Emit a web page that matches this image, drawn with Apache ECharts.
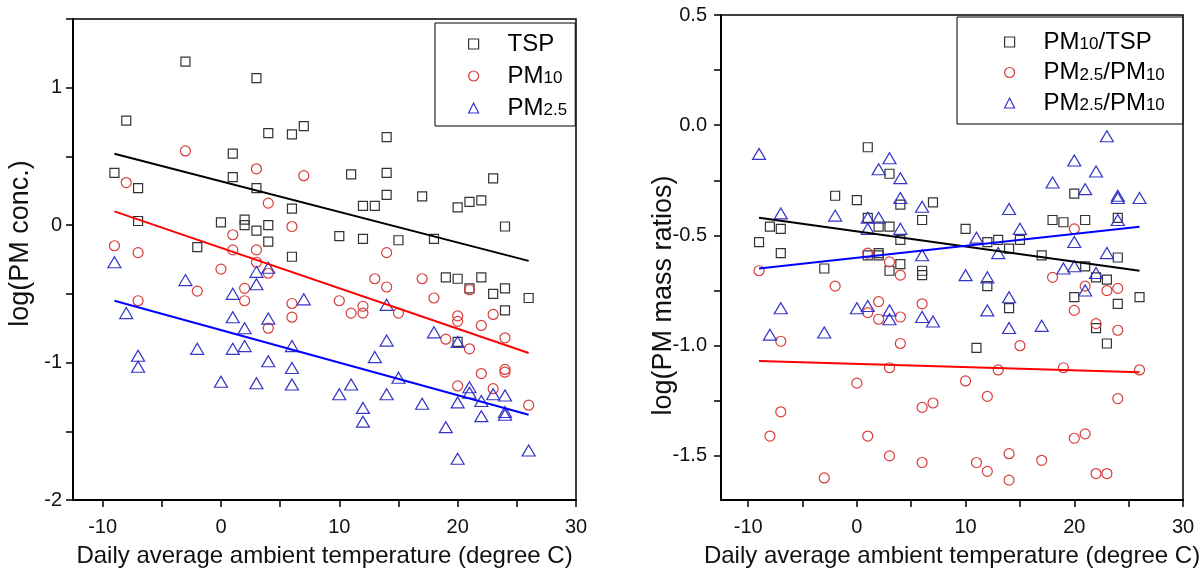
<!DOCTYPE html>
<html>
<head>
<meta charset="utf-8">
<script src="https://cdn.jsdelivr.net/npm/echarts@6/dist/echarts.min.js"></script>
<style>
html,body{margin:0;padding:0;background:#fff;}
#chart{width:1204px;height:573px;}
</style>
</head>
<body>
<div id="chart"></div>
<script>
// ---------- shared axis settings ----------
const xRange = [-12.5, 30];
const xTickValues = [-10, -5, 0, 5, 10, 15, 20, 25, 30];
const xLabelValues = [-10, 0, 10, 20, 30];
const xTitle = 'Daily average ambient temperature (degree C)';

// ---------- left panel: log(PM conc.) ----------
const leftYRange = [-2, 1.5];
const leftYTicks = [-2, -1.5, -1, -0.5, 0, 0.5, 1, 1.5];
const leftYLabels = [-2, -1, 0, 1];
const leftYTitle = 'log(PM conc.)';

const tsp = [[-9,0.38],[-8,0.76],[-7,0.27],[-7,0.03],[-3,1.19],[-2,-0.16],[0,0.02],[1,0.52],[1,0.35],[2,0.04],[2,0.00],[3,1.07],[3,0.27],[3,-0.04],[4,0.67],[4,0.00],[4,-0.12],[6,0.66],[6,0.12],[6,-0.23],[7,0.72],[10,-0.08],[11,0.37],[12,0.14],[12,-0.10],[13,0.14],[14,0.64],[14,0.38],[14,0.22],[15,-0.11],[17,0.21],[18,-0.10],[19,-0.38],[20,0.13],[20,-0.39],[20,-0.85],[21,0.17],[21,-0.46],[22,0.18],[22,-0.38],[23,0.34],[23,-0.50],[24,-0.01],[24,-0.46],[24,-0.62],[26,-0.53]];
const pm10 = [[-9,-0.15],[-8,0.31],[-7,-0.20],[-7,-0.55],[-3,0.54],[-2,-0.48],[0,-0.32],[1,-0.07],[1,-0.18],[2,-0.46],[2,-0.55],[3,0.41],[3,-0.18],[3,-0.27],[4,0.16],[4,-0.35],[4,-0.75],[6,-0.01],[6,-0.57],[6,-0.67],[7,0.36],[10,-0.55],[11,-0.64],[12,-0.59],[12,-0.64],[13,-0.39],[14,-0.20],[14,-0.45],[15,-0.64],[17,-0.39],[18,-0.53],[19,-0.83],[20,-0.66],[20,-0.70],[20,-1.17],[21,-0.47],[21,-0.90],[22,-0.73],[22,-1.08],[23,-0.65],[23,-1.19],[24,-0.82],[24,-1.05],[24,-1.07],[26,-1.31]];
const pm25 = [[-9,-0.27],[-8,-0.64],[-7,-0.95],[-7,-1.03],[-3,-0.40],[-2,-0.90],[0,-1.14],[1,-0.50],[1,-0.67],[1,-0.90],[2,-0.75],[2,-0.88],[3,-0.34],[3,-0.43],[3,-1.15],[4,-0.31],[4,-0.68],[4,-0.99],[6,-0.88],[6,-1.04],[6,-1.16],[7,-0.54],[10,-1.23],[11,-1.16],[12,-1.33],[12,-1.43],[13,-0.96],[14,-0.58],[14,-0.84],[14,-1.23],[15,-1.11],[17,-1.30],[18,-0.78],[19,-1.47],[20,-0.85],[20,-1.29],[20,-1.70],[21,-1.18],[21,-1.22],[22,-1.28],[22,-1.39],[23,-1.23],[24,-1.24],[24,-1.36],[24,-1.38],[26,-1.64]];
const tspFit = [[-9,0.52],[26,-0.26]];
const pm10Fit = [[-9,0.10],[26,-0.93]];
const pm25Fit = [[-9,-0.55],[26,-1.38]];

// ---------- right panel: log(PM mass ratios) ----------
const rightYRange = [-1.7, 0.5];
const rightYTicks = [-1.5, -1.25, -1, -0.75, -0.5, -0.25, 0, 0.25, 0.5];
const rightYLabels = [-1.5, -1, -0.5, 0, 0.5];
const rightYTitle = 'log(PM mass ratios)';

const ratio10tsp = [[-9,-0.53],[-8,-0.46],[-7,-0.47],[-7,-0.58],[-3,-0.65],[-2,-0.32],[0,-0.34],[1,-0.10],[1,-0.42],[1,-0.59],[2,-0.46],[2,-0.59],[2,-0.58],[3,-0.22],[3,-0.46],[3,-0.66],[4,-0.36],[4,-0.52],[4,-0.63],[6,-0.43],[6,-0.66],[6,-0.68],[7,-0.35],[10,-0.47],[11,-1.01],[12,-0.53],[12,-0.73],[13,-0.52],[14,-0.56],[14,-0.83],[15,-0.52],[17,-0.59],[18,-0.43],[19,-0.44],[20,-0.31],[20,-0.78],[21,-0.43],[21,-0.64],[22,-0.69],[22,-0.92],[23,-0.70],[23,-0.99],[24,-0.42],[24,-0.60],[24,-0.81],[26,-0.78]];
const ratio25pm10a = [[-9,-0.66],[-8,-1.41],[-7,-0.98],[-7,-1.30],[-3,-1.60],[-2,-0.73],[0,-1.17],[1,-0.58],[1,-0.85],[1,-1.41],[2,-0.80],[2,-0.88],[3,-0.62],[3,-1.10],[3,-1.50],[4,-0.68],[4,-0.87],[4,-0.99],[6,-0.81],[6,-1.28],[6,-1.53],[7,-1.26],[10,-1.16],[11,-1.53],[12,-1.23],[12,-1.57],[13,-1.11],[14,-1.49],[14,-1.61],[15,-1.00],[17,-1.52],[18,-0.69],[19,-1.10],[20,-0.47],[20,-0.84],[20,-1.42],[21,-0.73],[21,-1.40],[22,-0.90],[22,-1.58],[23,-0.75],[23,-1.58],[24,-0.74],[24,-0.93],[24,-1.24],[26,-1.11]];
const ratio25pm10b = [[-9,-0.13],[-8,-0.95],[-7,-0.40],[-7,-0.83],[-3,-0.94],[-2,-0.41],[0,-0.83],[1,-0.42],[1,-0.47],[1,-0.82],[2,-0.20],[2,-0.42],[3,-0.15],[3,-0.84],[3,-0.88],[4,-0.24],[4,-0.33],[4,-0.47],[6,-0.37],[6,-0.59],[6,-0.87],[7,-0.89],[10,-0.68],[11,-0.51],[12,-0.69],[12,-0.84],[13,-0.58],[14,-0.38],[14,-0.78],[14,-0.92],[15,-0.47],[17,-0.91],[18,-0.26],[19,-0.65],[20,-0.16],[20,-0.53],[20,-0.64],[21,-0.29],[21,-0.75],[22,-0.21],[22,-0.67],[23,-0.05],[23,-0.58],[24,-0.32],[24,-0.33],[24,-0.43],[26,-0.33]];
const ratio10tspFit = [[-9,-0.42],[26,-0.66]];
const ratio25pm10aFit = [[-9,-1.07],[26,-1.12]];
const ratio25pm10bFit = [[-9,-0.65],[26,-0.46]];

// legend labels (main text + subscript)
const legendLabels = {
  'TSP': '{m|TSP}',
  'PM10': '{m|PM}{s|10}',
  'PM2.5': '{m|PM}{s|2.5}',
  'PM10/TSP': '{m|PM}{s|10}{m|/TSP}',
  'PM2.5/PM10 (a)': '{m|PM}{s|2.5}{m|/PM}{s|10}',
  'PM2.5/PM10 (b)': '{m|PM}{s|2.5}{m|/PM}{s|10}'
};

// ---------- styles ----------
const FONT = 'Liberation Sans, Arial, sans-serif';
const cSquare = '#333333', cCircle = '#d83c3c', cTri = '#3535c8';
const cLineK = '#000000', cLineR = '#ff0000', cLineB = '#0000ff';

function xAxisCfg(gi){
  return {
    type:'value', gridIndex:gi, min:xRange[0], max:xRange[1],
    name:xTitle, nameLocation:'middle', nameGap:44, nameMoveOverlap:false,
    nameTextStyle:{fontFamily:FONT, fontSize:24, color:'#111'},
    axisLine:{show:true, onZero:false, lineStyle:{color:'#000', width:2}},
    axisTick:{show:true, inside:false, length:7, lineStyle:{color:'#000', width:1.5}, customValues:xTickValues},
    axisLabel:{show:true, margin:17, fontFamily:FONT, fontSize:20, color:'#111', customValues:xLabelValues, formatter:v=>String(v)},
    splitLine:{show:false}
  };
}
function yAxisCfg(gi, range, ticks, labels, title, gap, margin, fmt, namePad){
  return {
    type:'value', gridIndex:gi, min:range[0], max:range[1],
    name:title, nameLocation:'middle', nameGap:gap, nameRotate:90, nameMoveOverlap:false,
    nameTextStyle:{fontFamily:FONT, fontSize:27, color:'#111', padding:namePad},
    axisLine:{show:true, onZero:false, lineStyle:{color:'#000', width:2}},
    axisTick:{show:true, inside:false, length:7, lineStyle:{color:'#000', width:1.5}, customValues:ticks},
    axisLabel:{show:true, margin:margin, fontFamily:FONT, fontSize:20, color:'#111', customValues:labels, formatter:fmt},
    splitLine:{show:false}
  };
}
function scatter(name, data, gi, symbol, size, color){
  return {
    name, type:'scatter', xAxisIndex:gi, yAxisIndex:gi, data,
    symbol, symbolSize:size, silent:true,
    itemStyle:{color:'rgba(0,0,0,0)', borderColor:color, borderWidth:1.2, opacity:1}
  };
}
function fitLine(data, gi, color){
  return {
    type:'line', xAxisIndex:gi, yAxisIndex:gi, data, showSymbol:false, symbol:'none',
    silent:true, z:3, lineStyle:{color, width:2}
  };
}
function legendItem(name, icon, color){
  return {name, icon, itemStyle:{color:'rgba(0,0,0,0)', borderColor:color, borderWidth:1.2}};
}
const richText = {
  sp:{width:24, fontSize:24, fontFamily:FONT, lineHeight:22},
  m:{fontFamily:FONT, fontSize:24, color:'#000', lineHeight:22},
  s:{fontFamily:FONT, fontSize:17, color:'#000', lineHeight:16, verticalAlign:'bottom', padding:[6,0,0,0]}
};

const option = {
  animation:false,
  backgroundColor:'#fff',
  grid:[
    {left:73, right:628, top:19, bottom:73, show:true, borderColor:'#000', borderWidth:1.5, backgroundColor:'transparent', containLabel:false, outerBoundsMode:'none'},
    {left:721, right:21, top:15, bottom:73, show:true, borderColor:'#000', borderWidth:1.5, backgroundColor:'transparent', containLabel:false, outerBoundsMode:'none'}
  ],
  xAxis:[xAxisCfg(0), xAxisCfg(1)],
  yAxis:[
    yAxisCfg(0, leftYRange, leftYTicks, leftYLabels, leftYTitle, 39, 11, v=>String(v), [0,0,0,32]),
    yAxisCfg(1, rightYRange, rightYTicks, rightYLabels, rightYTitle, 44, 14, v=>v.toFixed(1), [0,76,0,0])
  ],
  legend:[
    {
      left:435, top:23, orient:'vertical', itemWidth:10, itemHeight:10, itemGap:8,
      padding:[9,8,6,33], borderColor:'#000', borderWidth:1, backgroundColor:'#fff',
      selectedMode:false,
      data:[legendItem('TSP','rect',cSquare), legendItem('PM10','circle',cCircle), legendItem('PM2.5','triangle',cTri)],
      formatter:n=>'{sp| }'+legendLabels[n],
      textStyle:{rich:richText}
    },
    {
      left:957, top:17, orient:'vertical', itemWidth:10, itemHeight:10, itemGap:6.5,
      padding:[13,18,9,47], borderColor:'#000', borderWidth:1, backgroundColor:'#fff',
      selectedMode:false,
      data:[legendItem('PM10/TSP','rect',cSquare), legendItem('PM2.5/PM10 (a)','circle',cCircle), legendItem('PM2.5/PM10 (b)','triangle',cTri)],
      formatter:n=>'{sp| }'+legendLabels[n],
      textStyle:{rich:richText}
    }
  ],
  series:[
    scatter('TSP', tsp, 0, 'rect', 9, cSquare),
    scatter('PM10', pm10, 0, 'circle', 10, cCircle),
    scatter('PM2.5', pm25, 0, 'triangle', [13,11], cTri),
    fitLine(tspFit, 0, cLineK),
    fitLine(pm10Fit, 0, cLineR),
    fitLine(pm25Fit, 0, cLineB),
    scatter('PM10/TSP', ratio10tsp, 1, 'rect', 9, cSquare),
    scatter('PM2.5/PM10 (a)', ratio25pm10a, 1, 'circle', 10, cCircle),
    scatter('PM2.5/PM10 (b)', ratio25pm10b, 1, 'triangle', [13,11], cTri),
    fitLine(ratio10tspFit, 1, cLineK),
    fitLine(ratio25pm10aFit, 1, cLineR),
    fitLine(ratio25pm10bFit, 1, cLineB)
  ]
};
const chart = echarts.init(document.getElementById('chart'), null, {renderer:'canvas'});
chart.setOption(option);
</script>
</body>
</html>
